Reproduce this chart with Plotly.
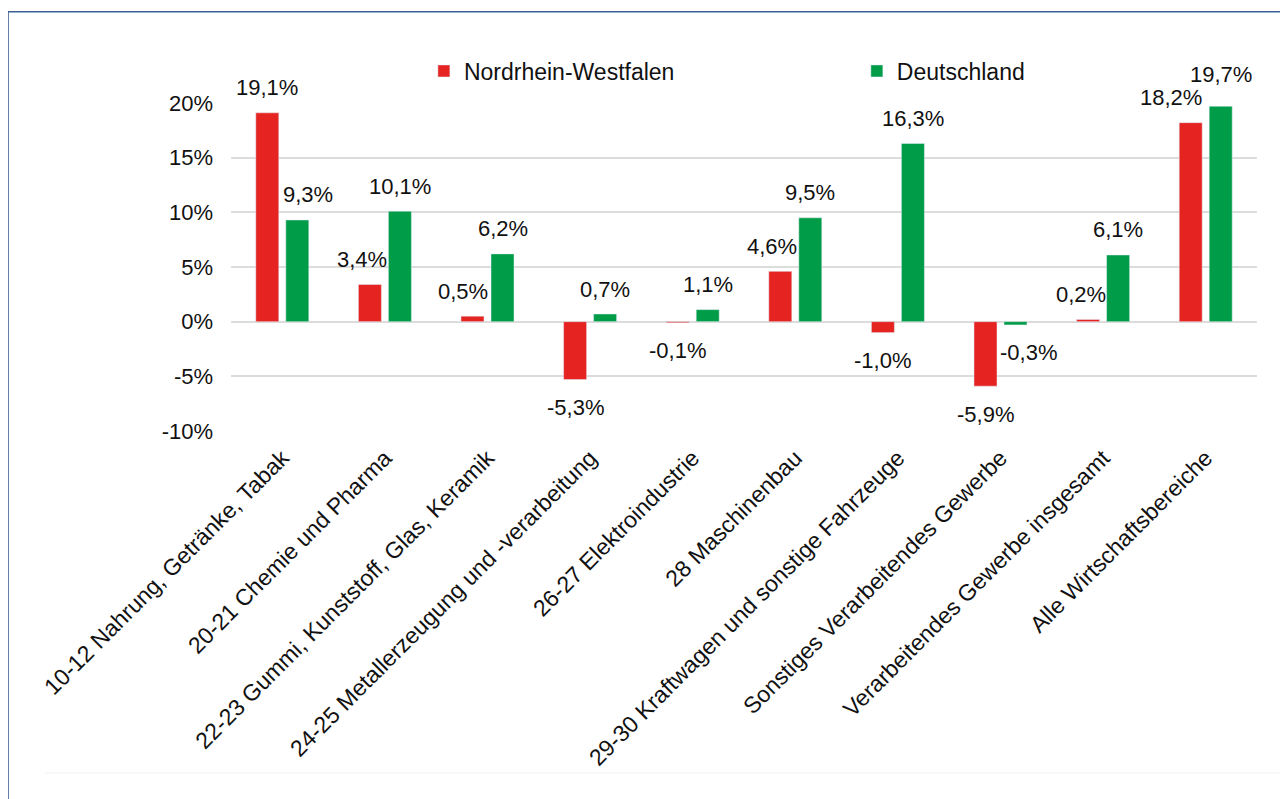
import plotly.graph_objects as go

categories = [
    "10-12 Nahrung, Getränke, Tabak",
    "20-21 Chemie und Pharma",
    "22-23 Gummi, Kunststoff, Glas, Keramik",
    "24-25 Metallerzeugung und -verarbeitung",
    "26-27 Elektroindustrie",
    "28 Maschinenbau",
    "29-30 Kraftwagen und sonstige Fahrzeuge",
    "Sonstiges Verarbeitendes Gewerbe",
    "Verarbeitendes Gewerbe insgesamt",
    "Alle Wirtschaftsbereiche",
]
nrw = [19.1, 3.4, 0.5, -5.3, -0.1, 4.6, -1.0, -5.9, 0.2, 18.2]
de = [9.3, 10.1, 6.2, 0.7, 1.1, 9.5, 16.3, -0.3, 6.1, 19.7]
y_ticks = [-10, -5, 0, 5, 10, 15, 20]

FONT = "Liberation Sans, Arial, Helvetica, sans-serif"
RED = "#e52421"
GREEN = "#009c48"

# label nudges (px) where the original moved labels away from neighbouring bars
nudge_nrw = {1: (-8, 0), 2: (-10, 0), 5: (-8, 0), 8: (-7, 0), 9: (-20, 0)}
nudge_de = {0: (11, 0), 7: (13, 0), 9: (0, 7)}


def fmt(v):
    return f"{v:.1f}".replace(".", ",") + "%"


fig = go.Figure()
fig.add_trace(go.Bar(x=categories, y=nrw, name="Nordrhein-Westfalen",
                     marker=dict(color=RED), legend="legend"))
fig.add_trace(go.Bar(x=categories, y=de, name="Deutschland",
                     marker=dict(color=GREEN), legend="legend2"))

annotations = []
for vals, off, nudges in [(nrw, -15, nudge_nrw), (de, 15, nudge_de)]:
    for i, (cat, v) in enumerate(zip(categories, vals)):
        dx, dy = nudges.get(i, (0, 0))
        annotations.append(dict(
            x=cat, y=v, xref="x", yref="y", text=fmt(v), showarrow=False,
            xshift=off + dx, yshift=(25 if v >= 0 else -28) + dy,
            yanchor="middle", font=dict(size=22, color="#111111"),
        ))

fig.update_layout(
    width=1288, height=799,
    margin=dict(l=223, r=39, t=95, b=376),
    paper_bgcolor="white", plot_bgcolor="white",
    font=dict(family=FONT, size=22, color="#111111"),
    barmode="group", bargap=0.415, bargroupgap=0.233,
    showlegend=True,
    legend=dict(x=0.188, y=1.0976, xanchor="left", yanchor="middle",
                itemwidth=30, font=dict(size=23), bgcolor="rgba(0,0,0,0)"),
    legend2=dict(x=0.610, y=1.0976, xanchor="left", yanchor="middle",
                 itemwidth=30, font=dict(size=23), bgcolor="rgba(0,0,0,0)"),
    xaxis=dict(
        tickangle=-45, showgrid=False, zeroline=False, showline=False,
        ticks="", tickfont=dict(size=23), automargin=False,
        ticklabelstandoff=8,
    ),
    yaxis=dict(
        range=[-10, 20], tickvals=y_ticks,
        ticktext=[f"{t}%" for t in y_ticks],
        showgrid=True, gridcolor="#dcdcdc", gridwidth=2,
        zeroline=True, zerolinecolor="#dcdcdc", zerolinewidth=2,
        showline=False, ticks="", ticklabelstandoff=17,
        tickfont=dict(size=22), automargin=False,
    ),
    annotations=annotations,
    shapes=[
        dict(type="rect", xref="paper", yref="paper",
             x0=-0.2173, x1=1.05, y0=-1.16, y1=1.278,
             line=dict(color="#3b6095", width=1.5), layer="below"),
        dict(type="line", xref="paper", yref="paper",
             x0=-0.1813, x1=1.05, y0=-1.0427, y1=-1.0427,
             line=dict(color="#f2f2f2", width=1)),
    ],
)

fig.write_html("out.html")
